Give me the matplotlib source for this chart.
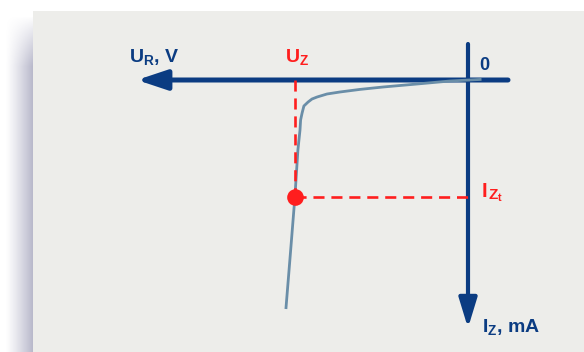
import numpy as np
import matplotlib
matplotlib.use('Agg')
import matplotlib.pyplot as plt
from matplotlib.patches import Rectangle

plt.rcParams['font.family'] = ['Liberation Sans', 'DejaVu Sans']
plt.rcParams['mathtext.fontset'] = 'custom'
plt.rcParams['mathtext.default'] = 'bf'
plt.rcParams['mathtext.bf'] = 'Liberation Sans:bold'
plt.rcParams['mathtext.rm'] = 'Liberation Sans:bold'

# zener reverse characteristic, U in V (negative = reverse), I in mA (negative = reverse)
curve_u = [0.45, -0.6, -1.7, -2.83, -3.6, -4.27, -4.7, -5.03, -5.2, -5.33, -5.47, -5.53, -5.58, -5.6, -5.67, -5.77, -5.9, -6.07]
curve_i = [0.03, -0.05, -0.2, -0.35, -0.47, -0.6, -0.7, -0.85, -0.95, -1.1, -1.3, -1.65, -2.0, -2.5, -3.5, -5.85, -8.3, -11.45]
u_z = -5.77
i_zt = -5.85
labels = {'u_axis': '$U_R$, V', 'i_axis': '$I_Z$, mA', 'uz': '$U_Z$',
          'izt_main': 'I', 'izt_sub': '$Z_t$', 'zero': '0'}

navy = '#0b3c82'
red = '#ff1e1e'
steel = '#6a8ea8'
panel = '#ededea'

# pixel mapping: origin at (468, 80), 30 px per V, 20 px per mA
x0, y0, kx, ky = 468, 80, 30.0, 20.0
W, H = 584, 352

fig = plt.figure(figsize=(5.84, 3.52), dpi=100)
bg = fig.add_axes([0, 0, 1, 1])
bg.set_xlim(0, W)
bg.set_ylim(H, 0)
bg.axis('off')

# drop shadow left of the panel
xs = np.arange(0, 40)
ys = np.arange(0, H)
fx = np.clip((xs - 5) / 28.0, 0, 1) ** 1.2
fy = np.clip((ys - 16) / 50.0, 0, 1) ** 0.9
alpha = (fy[:, None] * fx[None, :]) * 0.7
img = np.zeros((H, 40, 4))
img[..., 0] = 150 / 255
img[..., 1] = 150 / 255
img[..., 2] = 178 / 255
img[..., 3] = alpha
bg.imshow(img, extent=(0, 40, H, 0), interpolation='bilinear', zorder=1)
bg.add_patch(Rectangle((33, 11), W - 33, H - 11, facecolor=panel, edgecolor='none', zorder=2))

ax = fig.add_axes([0, 0, 1, 1])
ax.set_xlim(-x0 / kx, (W - x0) / kx)
ax.set_ylim(-(H - y0) / ky, y0 / ky)
ax.axis('off')
ax.patch.set_alpha(0)

# axes arrows
ax.annotate('', xy=((137 - x0) / kx, 0), xytext=((508 - x0) / kx, 0),
            arrowprops=dict(arrowstyle='-|>,head_length=1.8,head_width=0.6', mutation_scale=10,
                            lw=3.6, color=navy, shrinkA=0, shrinkB=0, capstyle='round'), zorder=3)
ax.annotate('', xy=(0, (y0 - 328) / ky), xytext=(0, (y0 - 44) / ky),
            arrowprops=dict(arrowstyle='-|>,head_length=1.8,head_width=0.55', mutation_scale=10,
                            lw=3.0, color=navy, shrinkA=0, shrinkB=0, capstyle='round'), zorder=3)

# characteristic
ax.plot(curve_u, curve_i, color=steel, lw=2.0, solid_capstyle='butt', zorder=4)

# Uz / Izt guides
ax.plot([u_z, u_z], [0, i_zt], color=red, lw=1.9, linestyle=(0, (4.2, 2.6)), zorder=5)
ax.plot([u_z, 0], [i_zt, i_zt], color=red, lw=1.9, linestyle=(0, (4.2, 2.6)), zorder=5)
ax.plot([u_z], [i_zt], 'o', color=red, markersize=12, markeredgewidth=0, zorder=6)

bg.text(129, 62, labels['u_axis'], color=navy, fontsize=14, fontweight='bold', ha='left', va='baseline', zorder=7)
bg.text(285, 62, labels['uz'], color=red, fontsize=14, fontweight='bold', ha='left', va='baseline', zorder=7)
bg.text(479, 70, labels['zero'], color=navy, fontsize=13, fontweight='bold', ha='left', va='baseline', zorder=7)
bg.text(482, 197, labels['izt_main'], color=red, fontsize=14.5, fontweight='bold', ha='left', va='baseline', zorder=7)
bg.text(487.5, 200, labels['izt_sub'], color=red, fontsize=11, fontweight='bold', ha='left', va='baseline', zorder=7)
bg.text(482, 332, labels['i_axis'], color=navy, fontsize=14, fontweight='bold', ha='left', va='baseline', zorder=7)

fig.savefig('out.png', dpi=100)
